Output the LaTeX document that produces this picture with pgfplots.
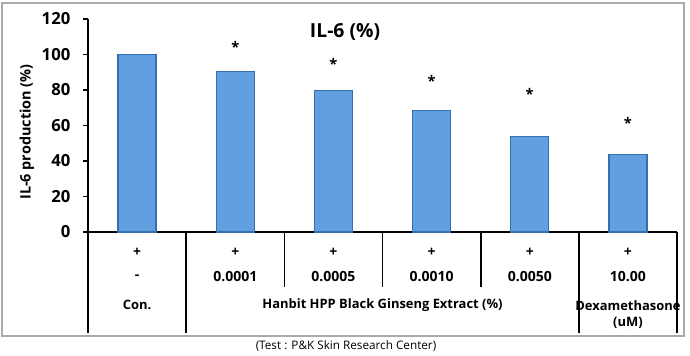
\documentclass[border=0pt]{standalone}
\usepackage{pgfplots}
\pgfplotsset{compat=1.18}
\usepackage{fontspec}
\setmainfont{Open Sans}
\definecolor{barblue}{RGB}{96,160,224}
\definecolor{baredge}{RGB}{55,110,175}
\definecolor{framegray}{RGB}{170,170,170}
\begin{document}
\begin{tikzpicture}
\begin{scope}[x=0.75pt,y=0.75pt]
\useasboundingbox (0,0) rectangle (690,353);
\draw[framegray,line width=0.8pt] (2,17) rectangle (684,350);
\end{scope}
\begin{axis}[
  at={(66pt,90.75pt)}, anchor=south west,
  scale only axis, width=441.75pt, height=159.75pt,
  xmin=-0.5, xmax=5.5, ymin=0, ymax=120,
  axis lines=left, axis line style={-, line width=1.2pt, black},
  xtick=\empty,
  ytick={0,20,40,60,80,100,120},
  tick align=outside, major tick length=3.75pt,
  tick style={black, line width=1.2pt},
  /pgf/number format/assume math mode=true,
  yticklabel style={font=\fontsize{12.5}{13}\selectfont\bfseries, xshift=-6pt},
  clip=false,
]
\addplot[ybar, bar width=28.5pt, fill=barblue, draw=baredge, line width=0.9pt]
  coordinates {(0,100) (1,90.4) (2,79.6) (3,68.4) (4,53.8) (5,43.6)};
\node[font=\fontsize{11}{11}\selectfont\bfseries] at (axis cs:1,104) {*};
\node[font=\fontsize{11}{11}\selectfont\bfseries] at (axis cs:2,94.5) {*};
\node[font=\fontsize{11}{11}\selectfont\bfseries] at (axis cs:3,85) {*};
\node[font=\fontsize{11}{11}\selectfont\bfseries] at (axis cs:4,77.5) {*};
\node[font=\fontsize{11}{11}\selectfont\bfseries] at (axis cs:5,61.5) {*};
\end{axis}
\begin{scope}[x=0.75pt,y=0.75pt]
\begin{scope}[line width=1.2pt]
\draw (88,121) -- (88,20);
\draw (186.2,121) -- (186.2,20);
\draw (284.3,121) -- (284.3,66);
\draw (382.5,121) -- (382.5,66);
\draw (480.7,121) -- (480.7,66);
\draw (578.8,121) -- (578.8,20);
\draw (677,121) -- (677,20);
\end{scope}
\begin{scope}[font=\fontsize{10.5}{11}\selectfont\bfseries]
\foreach \x in {137.1,235.3,333.4,431.6,529.8,627.9} \node at (\x,101) {+};
\node at (137.1,76) {-};
\node at (235.3,76) {0.0001};
\node at (333.4,76) {0.0005};
\node at (431.6,76) {0.0010};
\node at (529.8,76) {0.0050};
\node at (627.9,76) {10.00};
\end{scope}
\begin{scope}[font=\fontsize{9.7}{11}\selectfont\bfseries]
\node at (137.1,48) {Con.};
\node at (382.5,48) {Hanbit HPP Black Ginseng Extract (\%)};
\node at (627.9,47) {Dexamethasone};
\node at (627.9,30) {(uM)};
\end{scope}
\node[font=\fontsize{14.5}{15}\selectfont\bfseries] at (345,321) {IL-6 (\%)};
\node[rotate=90,font=\fontsize{10.8}{12}\selectfont\bfseries] at (27,221) {IL-6 production (\%)};
\node[font=\fontsize{8.8}{10}\selectfont] at (346,7) {(Test : P\&K Skin Research Center)};
\end{scope}
\end{tikzpicture}
\end{document}
